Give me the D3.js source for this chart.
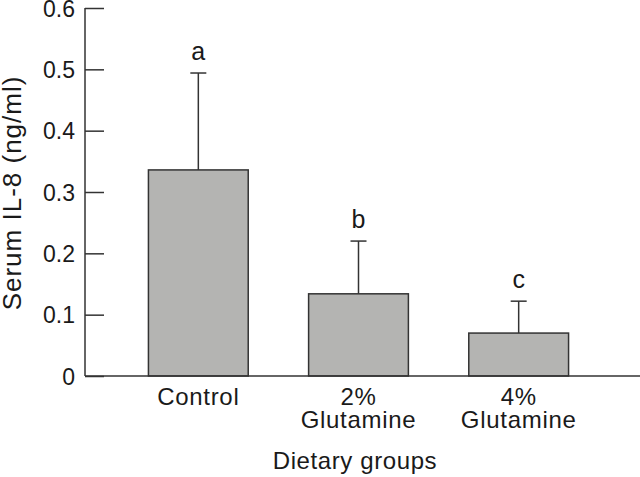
<!DOCTYPE html>
<html><head><meta charset="utf-8">
<script src="https://cdn.jsdelivr.net/npm/d3@7"></script>
<style>body{margin:0;background:#fff}svg{display:block}text{font-family:"Liberation Sans",Arial,sans-serif;fill:#1a1a1a}</style>
</head><body>
<svg id="c" width="640" height="477"></svg>
<script>
const categories = ["Control", "2%|Glutamine", "4%|Glutamine"];
const means = [0.336, 0.134, 0.070];
const errors = [0.158, 0.086, 0.052];
const letters = ["a", "b", "c"];
const yTicks = [0, 0.1, 0.2, 0.3, 0.4, 0.5, 0.6];
const yLabel = "Serum IL-8 (ng/ml)";
const xLabel = "Dietary groups";

const svg = d3.select("#c");
const axisX = 85, y0 = 376, yTop = 8;
const y = d3.scaleLinear().domain([0, 0.6]).range([y0, yTop]);
const x = d3.scaleBand().domain(categories).range([118, 599]).paddingInner(0.377).paddingOuter(0.19);

const stroke = "#333";
svg.selectAll("rect.bar").data(means).enter().append("rect")
  .attr("x", (d,i) => x(categories[i]))
  .attr("width", x.bandwidth())
  .attr("y", d => y(d))
  .attr("height", d => y0 - y(d))
  .attr("fill", "#b4b4b2").attr("stroke", stroke).attr("stroke-width", 1.5);
means.forEach((m,i) => {
  const cx = x(categories[i]) + x.bandwidth()/2;
  svg.append("line").attr("x1", cx).attr("x2", cx).attr("y1", y(m)).attr("y2", y(m+errors[i]))
    .attr("stroke", stroke).attr("stroke-width", 1.5);
  svg.append("line").attr("x1", cx-8).attr("x2", cx+8).attr("y1", y(m+errors[i])).attr("y2", y(m+errors[i]))
    .attr("stroke", stroke).attr("stroke-width", 1.5);
  svg.append("text").attr("x", cx).attr("y", y(m+errors[i]) - 13).attr("text-anchor", "middle")
    .attr("font-size", 25).text(letters[i]);
});
const ya = svg.append("g").attr("transform", `translate(${axisX},0)`)
  .call(d3.axisLeft(y).tickValues(yTicks).tickSize(-19).tickPadding(10).tickFormat(d => d === 0 ? "0" : d3.format(".1f")(d)));
ya.select(".domain").attr("stroke", stroke).attr("stroke-width", 1.5).attr("d", `M0,${yTop}V${y0}`);
ya.selectAll(".tick line").attr("stroke", stroke).attr("stroke-width", 1.5);
ya.selectAll(".tick text").attr("font-size", 23).attr("fill", "#1a1a1a").attr("font-family", "Liberation Sans, Arial, sans-serif").attr("x", -10).attr("dy", "0.36em");
svg.append("line").attr("x1", axisX).attr("x2", 640).attr("y1", y0).attr("y2", y0)
  .attr("stroke", stroke).attr("stroke-width", 1.5);
categories.forEach(c => {
  const cx = x(c) + x.bandwidth()/2;
  c.split("|").forEach((p,j) => {
    svg.append("text").attr("x", cx).attr("y", 405 + j*23).attr("text-anchor","middle")
      .attr("font-size", 24).attr("letter-spacing", 0.7).text(p);
  });
});
svg.append("text").attr("x", 355).attr("y", 469).attr("text-anchor","middle").attr("font-size", 24)
  .attr("letter-spacing", 0.6).text(xLabel);
svg.append("text").attr("transform", "translate(21,193) rotate(-90)").attr("text-anchor","middle")
  .attr("font-size", 26).attr("letter-spacing", 1).text(yLabel);
</script>
</body></html>
